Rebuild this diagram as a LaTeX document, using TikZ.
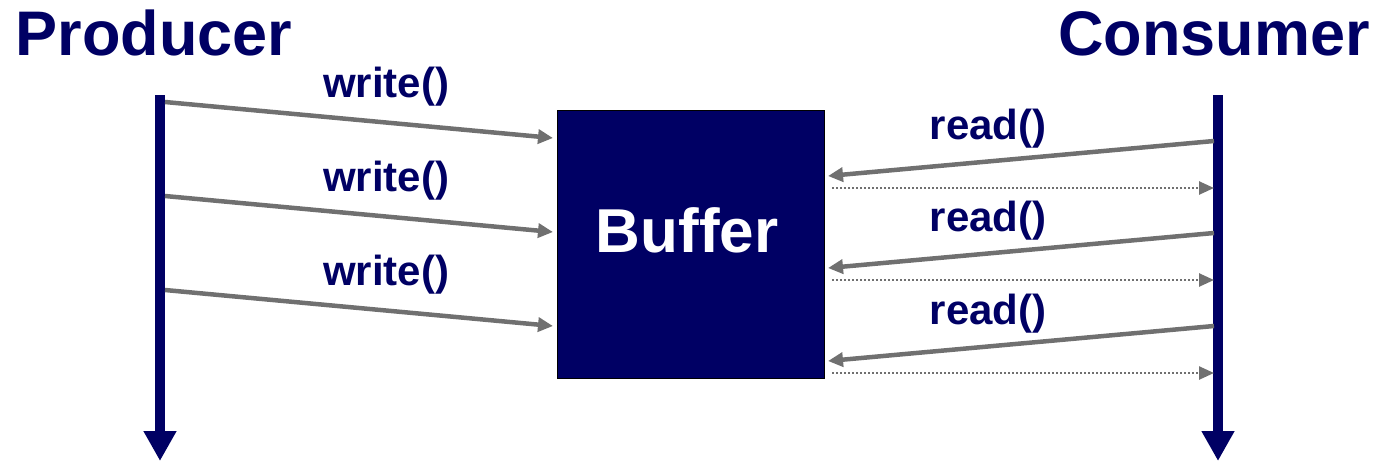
\documentclass[tikz,border=0pt]{standalone}
\usepackage{fontspec}
\setmainfont{Liberation Sans}
\usetikzlibrary{arrows.meta}
\definecolor{navy}{RGB}{0,0,100}
\definecolor{arrgray}{RGB}{112,112,112}
\begin{document}
\begin{tikzpicture}[x=1pt,y=-1pt,
  title/.style={font=\fontsize{63}{63}\selectfont\bfseries, text=navy, inner sep=0},
  call/.style={font=\fontsize{42}{42}\selectfont\bfseries, text=navy, inner sep=0},
  life/.style={draw=navy, line width=10pt, -{Triangle[length=30pt,width=31pt]}},
  msg/.style={draw=arrgray, line width=4.5pt, -{Triangle[length=15pt,width=14pt]}},
  ret/.style={draw=arrgray, line width=2.5pt, dash pattern=on 2pt off 2pt, -{Triangle[length=15pt,width=13pt]}}]
\useasboundingbox (0,0) rectangle (1378,461);
\node[title, anchor=base] (prod) at (154,55) {Producer};
\node[title, anchor=base] (cons) at (1214,55) {Consumer};
\coordinate (pt) at (160,95);
\coordinate (pb) at (160,461);
\coordinate (ct) at (1218,95);
\coordinate (cb) at (1218,461);
\draw[life] (pt) -- (pb);
\draw[life] (ct) -- (cb);
\node[draw=black, line width=1pt, fill=navy, minimum width=267pt, minimum height=268pt, inner sep=0] (buf) at (690.5,244) {};
\node[font=\fontsize{62}{62}\selectfont\bfseries, text=white, inner sep=0, anchor=base] (buftxt) at (687,252) {Buffer};
% write calls
\foreach \i/\y in {1/0,2/94,3/188}{
  \coordinate (ws\i) at (165,102+\y);
  \coordinate (we\i) at (553,138+\y);
  \draw[msg] (ws\i) -- (we\i);
  \node[call, anchor=base] (wl\i) at (386,97+\y) {write()};
}
% read calls
\foreach \i/\y in {1/0,2/92,3/185}{
  \coordinate (rs\i) at (1214,141+\y);
  \coordinate (re\i) at (828,176+\y);
  \draw[msg] (rs\i) -- (re\i);
  \node[call, anchor=base] (rl\i) at (988,139+\y) {read()};
  \coordinate (ds\i) at (832,188+\y);
  \coordinate (de\i) at (1214,188+\y);
  \draw[ret] (ds\i) -- (de\i);
}
\end{tikzpicture}
\end{document}
